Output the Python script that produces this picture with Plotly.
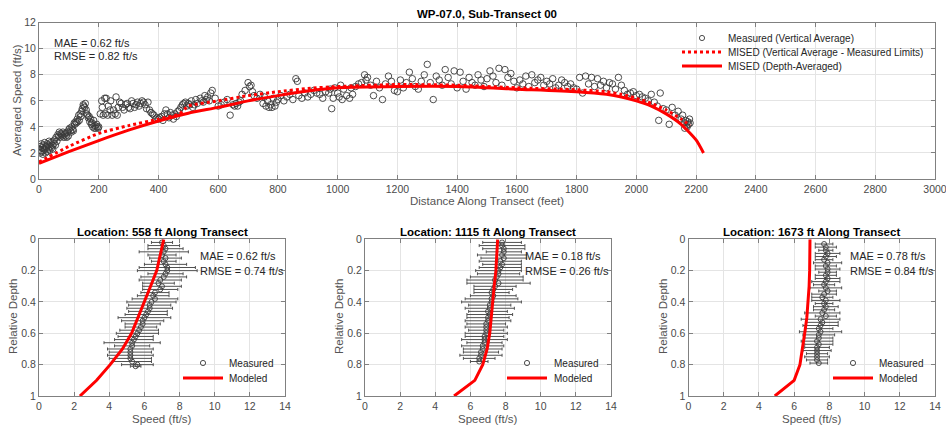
import plotly.graph_objects as go

W, H = 946, 429

# ---------------- DATA ----------------
# Top panel: measured vertical-average speed along transect
meas_x = [2,4,5,7,8,10,11,13,14,16,18,19,21,23,25,27,28,30,32,34,36,38,40,42,44,46,48,50,52,55,57,60,
          63,66,68,70,73,75,78,80,83,85,88,90,93,95,98,100,103,105,108,110,113,115,118,120,123,125,128,130,
          133,135,138,140,143,145,148,150,153,155,158,160,163,165,168,170,173,175,178,180,183,185,188,190,193,195,198,200,
          205,210,212,215,220,222,225,230,232,238,240,245,250,255,258,262,265,270,275,280,285,290,295,300,305,310,315,320,325,330,335,340,345,350,355,360,365,370,375,
          380,385,390,395,400,405,410,415,420,425,430,435,440,445,450,455,460,465,470,475,480,
          485,490,495,500,505,510,515,520,525,530,540,545,550,555,560,565,570,575,580,590,600,610,620,630,640,
          650,655,660,665,670,675,680,690,700,705,710,715,720,730,740,750,755,760,765,770,775,780,785,790,795,800,
          810,820,830,840,850,860,865,870,880,890,900,910,920,930,940,950,960,970,975,980,985,990,1000,
          1005,1010,1015,1020,1030,1040,1045,1050,1060,1070,1080,1090,1095,1100,1110,1120,1130,1140,1150,1160,1170,1180,1190,1200,1210,1220,1230,1240,1250,1260,1270,1280,1290,1300,
          1310,1320,1330,1340,1350,1360,1370,1380,1390,1400,1410,1420,1430,1440,1450,1460,1470,1480,1490,1500,
          1510,1520,1530,1540,1550,1560,1570,1580,1590,1600,1610,1620,1630,1640,1650,1660,1670,1680,1690,1700,1710,1720,1730,1740,1750,1760,1770,1780,1790,1800,
          1810,1820,1830,1840,1850,1860,1870,1880,1890,1900,1910,1920,1930,1940,1950,1960,1970,1980,1990,2000,
          2010,2020,2030,2040,2050,2060,2070,2075,2080,2090,2100,2110,2120,2130,2140,2150,2155,2160,2165,2170,2172,2175,2178,2180,2168,2162]
meas_y = [2.3,2.0,2.5,2.2,2.7,2.1,2.4,1.9,2.6,2.3,2.2,2.8,2.0,2.5,2.4,2.7,2.1,2.6,2.3,2.9,2.2,2.5,2.8,2.4,2.6,2.3,2.9,2.7,3.0,2.6,3.2,2.9,
          3.4,3.3,3.6,3.2,3.5,3.4,3.3,3.6,3.2,3.4,3.5,3.3,3.2,3.6,3.3,3.8,3.9,3.7,3.6,4.0,3.8,3.7,4.3,4.2,4.4,4.3,4.6,4.4,
          4.9,4.5,5.0,4.8,5.2,5.4,5.7,5.6,5.5,5.8,5.3,5.0,4.9,4.7,4.8,4.4,4.6,4.2,4.3,4.0,4.5,3.9,4.1,3.9,4.2,4.0,3.9,4.0,
          5.0,6.0,5.5,4.9,6.2,5.0,6.2,4.9,5.6,5.3,6.0,4.9,5.3,5.0,6.3,4.9,5.5,5.9,5.8,5.5,5.3,5.7,5.8,5.5,5.4,6.0,5.8,5.5,5.7,5.9,5.6,5.8,6.0,5.9,5.7,5.4,5.9,5.3,5.1,
          5.0,4.9,4.6,4.7,4.6,4.7,4.8,4.5,5.0,5.3,5.0,4.7,5.1,4.9,4.6,5.0,4.8,5.2,5.3,5.5,5.7,
          5.8,5.9,5.6,5.8,5.7,6.0,5.5,5.7,6.1,5.8,6.2,6.0,5.9,6.4,6.1,6.3,6.0,6.6,6.8,6.2,5.6,5.7,5.9,6.1,4.9,
          5.7,5.6,5.8,5.6,5.9,6.0,6.5,6.8,7.4,7.1,7.2,6.7,6.4,6.2,6.5,5.8,6.3,5.6,6.0,5.5,5.7,5.5,6.2,5.6,5.9,6.1,
          6.4,6.0,6.3,6.5,6.1,7.7,7.5,6.4,6.2,6.6,6.3,6.5,6.8,6.6,6.5,6.2,6.7,6.6,6.9,5.4,6.2,7.0,6.6,
          6.3,7.2,6.1,6.9,6.4,6.2,7.0,6.5,7.1,7.3,7.4,8.0,7.6,7.8,7.2,6.4,7.5,7.0,6.1,7.3,7.9,7.5,6.8,6.7,7.6,7.0,7.4,8.2,7.7,7.1,6.9,7.5,8.0,8.8,
          7.4,6.1,7.9,7.6,7.2,8.4,7.8,7.3,8.3,7.0,8.2,7.5,6.9,7.8,7.4,7.2,8.0,7.6,7.1,7.7,
          8.3,7.9,7.4,8.5,7.2,8.4,7.8,8.1,7.5,7.0,7.6,7.3,7.9,7.1,8.0,7.4,7.6,7.8,7.2,7.5,7.3,7.7,7.0,7.2,7.6,7.4,7.1,7.3,7.0,6.9,
          7.8,6.6,7.9,7.3,7.8,7.1,7.7,7.2,7.5,7.0,7.4,7.3,6.9,7.8,7.2,6.8,6.5,6.6,6.7,6.4,
          6.5,6.3,6.2,6.0,6.5,5.9,5.6,4.5,6.6,5.4,5.3,4.2,5.5,4.9,5.2,4.6,4.9,4.3,4.5,4.0,4.4,4.2,4.6,4.3,4.1,3.9]

# MISED vertical average within measured limits (dotted)
lim_x = [0, 100, 200, 300, 400, 470, 500, 600, 700, 800, 900, 1000, 1200, 1400, 1600, 1800, 1900, 1950, 2000, 2050, 2100, 2150, 2180]
lim_y = [1.3, 2.5, 3.5, 4.1, 4.6, 5.0, 5.6, 6.0, 6.4, 6.7, 6.95, 7.1, 7.25, 7.2, 7.0, 6.85, 6.7, 6.5, 6.2, 5.8, 5.3, 4.6, 4.1]

# MISED depth-averaged (solid)
dep_x = [0, 100, 200, 300, 400, 500, 600, 700, 800, 900, 1000, 1200, 1400, 1600, 1800, 1900, 1950, 2000, 2050, 2100, 2150, 2200, 2225]
dep_y = [1.2, 2.1, 2.95, 3.75, 4.45, 5.05, 5.5, 6.0, 6.4, 6.75, 7.0, 7.1, 7.1, 6.9, 6.7, 6.5, 6.3, 6.0, 5.6, 5.0, 4.2, 3.0, 2.0]

# Bottom panels: vertical profiles
depth1 = [0.02,0.04,0.06,0.08,0.10,0.12,0.14,0.16,0.18,0.20,0.22,0.24,0.26,0.28,0.30,0.32,0.34,0.36,0.38,0.40,
          0.42,0.44,0.46,0.48,0.50,0.52,0.54,0.56,0.58,0.60,0.62,0.64,0.66,0.68,0.70,0.72,0.74,0.76,0.78,0.80,0.81]
speed1 = [7.0,7.1,7.2,7.1,7.0,7.2,7.1,7.2,7.3,7.3,7.2,7.1,6.9,6.8,7.0,6.9,6.6,6.5,6.6,6.4,
          6.3,6.3,6.2,6.1,6.0,5.9,5.9,5.8,5.7,5.6,5.5,5.4,5.3,5.3,5.2,5.2,5.2,5.2,5.3,5.6,5.5]
err1 = [0.6,0.9,1.0,1.4,0.8,0.9,0.7,1.2,1.6,1.7,1.0,1.3,1.2,0.9,1.1,1.0,0.8,0.9,1.3,1.4,
        1.2,1.3,1.1,1.2,1.5,1.2,1.0,0.9,1.1,1.2,1.0,1.1,1.6,1.0,1.3,1.2,1.3,1.2,1.1,0.9,0.3]

depth2 = [0.02,0.04,0.06,0.08,0.10,0.12,0.14,0.16,0.18,0.20,0.22,0.24,0.26,0.28,0.30,0.32,0.34,0.36,0.38,0.40,
          0.42,0.44,0.46,0.48,0.50,0.52,0.54,0.56,0.58,0.60,0.62,0.64,0.66,0.68,0.70,0.72,0.74,0.76,0.78]
speed2 = [7.8,7.8,7.9,7.9,7.8,7.9,7.7,7.8,7.7,7.6,7.6,7.5,7.4,7.6,7.4,7.3,7.2,7.3,7.2,7.2,
          7.1,7.1,7.0,7.1,7.0,7.0,6.9,6.9,6.9,6.9,6.8,6.8,6.8,6.7,6.7,6.6,6.6,6.5,6.5]
err2 = [1.1,1.3,1.2,1.0,1.4,1.3,1.2,1.1,1.2,1.3,1.2,1.5,1.6,1.8,1.2,1.1,1.0,1.3,1.5,1.7,
        1.2,1.4,1.1,1.3,1.2,1.3,1.1,1.2,1.0,1.2,1.1,1.3,1.0,1.2,1.1,1.0,1.2,0.9,0.5]

depth3 = [0.03,0.05,0.07,0.09,0.11,0.13,0.15,0.17,0.19,0.21,0.23,0.25,0.27,0.29,0.31,0.33,0.35,0.37,0.39,0.41,
          0.43,0.45,0.47,0.49,0.51,0.53,0.55,0.57,0.59,0.61,0.63,0.65,0.67,0.69,0.71,0.73,0.75,0.77,0.79]
speed3 = [7.7,7.8,7.8,7.9,7.8,7.7,7.9,7.8,7.9,7.9,7.8,7.9,7.8,7.7,7.8,7.9,7.7,7.6,7.8,7.7,
          7.8,7.7,7.6,7.8,7.5,7.6,7.5,7.4,7.5,7.4,7.4,7.3,7.4,7.3,7.3,7.3,7.3,7.3,7.4]
err3 = [0.5,0.6,0.4,0.7,0.6,0.5,0.8,0.6,0.7,0.5,0.6,0.7,0.8,0.6,0.9,0.5,0.7,0.6,0.8,0.5,
        0.7,0.6,1.0,0.6,1.1,0.9,1.0,0.8,1.2,0.9,0.8,0.9,0.8,0.7,0.8,0.6,0.7,0.6,0.5]

model_depth = [0.0,0.1,0.2,0.3,0.4,0.5,0.6,0.7,0.8,0.9,1.0]
model1 = [7.1,6.9,6.7,6.35,6.0,5.65,5.27,4.75,4.05,3.28,2.33]
model2 = [7.55,7.5,7.45,7.35,7.27,7.2,7.1,6.95,6.7,6.25,5.07]
model3 = [6.9,6.9,6.88,6.85,6.8,6.72,6.6,6.47,6.33,6.0,4.9]

panel_titles = ["Location: 558 ft Along Transect", "Location: 1115 ft Along Transect", "Location: 1673 ft Along Transect"]
panel_mae = ["MAE = 0.62 ft/s", "MAE = 0.18 ft/s", "MAE = 0.78 ft/s"]
panel_rmse = ["RMSE = 0.74 ft/s", "RMSE = 0.26 ft/s", "RMSE = 0.84 ft/s"]
top_title = "WP-07.0, Sub-Transect 00"
legend_top = ["Measured (Vertical Average)", "MISED (Vertical Average - Measured Limits)", "MISED (Depth-Averaged)"]

# ---------------- STYLE ----------------
FONT = "Liberation Sans, Arial, Helvetica, sans-serif"
RED = "#ff0000"
TXT = "#262626"
TICK = "#4a4a4a"
AXC = "#808080"
GRID = "#e4e4e4"

def fx(px):
    return px / W

def fy(py):
    return 1 - py / H

fig = go.Figure()

# top panel traces
fig.add_trace(go.Scatter(x=meas_x, y=meas_y, mode="markers", xaxis="x", yaxis="y",
                         marker=dict(symbol="circle-open", size=6.5, color="#3a3a3a", line=dict(width=0.9)),
                         showlegend=False))
fig.add_trace(go.Scatter(x=lim_x, y=lim_y, mode="lines", xaxis="x", yaxis="y",
                         line=dict(color=RED, width=3, dash="dot", shape="spline", smoothing=0.6), showlegend=False))
fig.add_trace(go.Scatter(x=dep_x, y=dep_y, mode="lines", xaxis="x", yaxis="y",
                         line=dict(color=RED, width=3, shape="spline", smoothing=0.6), showlegend=False))

profiles = [(depth1, speed1, err1, model1), (depth2, speed2, err2, model2), (depth3, speed3, err3, model3)]
for i, (d, s, e, m) in enumerate(profiles):
    xa = "x%d" % (i + 2)
    ya = "y%d" % (i + 2)
    fig.add_trace(go.Scatter(x=s, y=d, mode="markers", xaxis=xa, yaxis=ya,
                             marker=dict(symbol="circle-open", size=5, color="#3a3a3a", line=dict(width=0.9)),
                             error_x=dict(type="data", array=e, color="#505050", thickness=1, width=1.5),
                             showlegend=False))
    fig.add_trace(go.Scatter(x=m, y=model_depth, mode="lines", xaxis=xa, yaxis=ya,
                             line=dict(color=RED, width=3), showlegend=False))

axis_common = dict(showgrid=True, gridcolor=GRID, gridwidth=1, showline=True, linecolor=AXC, linewidth=1,
                   mirror="ticks", ticks="inside", ticklen=4, tickcolor=AXC, zeroline=False,
                   ticklabeloverflow="allow",
                   tickfont=dict(family=FONT, size=10.5, color=TICK), automargin=False)

# domains (pixel based)
top_x = [fx(39), fx(935)]
top_y = [fy(179), fy(22.7)]
bot_y = [fy(396), fy(239.3)]
bot_x = [[fx(39), fx(285)], [fx(365), fx(611)], [fx(688.5), fx(935)]]

layout = dict(
    width=W, height=H, margin=dict(l=0, r=0, t=0, b=0),
    paper_bgcolor="white", plot_bgcolor="white",
    font=dict(family=FONT, color=TXT),
    showlegend=False,
    xaxis=dict(domain=top_x, range=[0, 3000], dtick=200, anchor="y", **axis_common),
    yaxis=dict(domain=top_y, range=[0, 12], dtick=2, anchor="x", **axis_common),
)
for i in range(3):
    layout["xaxis%d" % (i + 2)] = dict(domain=bot_x[i], range=[0, 14], dtick=2, anchor="y%d" % (i + 2), **axis_common)
    layout["yaxis%d" % (i + 2)] = dict(domain=bot_y, range=[1, 0], dtick=0.2, anchor="x%d" % (i + 2), **axis_common)
fig.update_layout(**layout)

ann = []
def text(px, py, t, size=11, bold=False, xanchor="center", color=TXT, angle=0):
    ann.append(dict(x=fx(px), y=fy(py), xref="paper", yref="paper", text=("<b>%s</b>" % t if bold else t),
                    showarrow=False, xanchor=xanchor, yanchor="middle", textangle=angle,
                    font=dict(family=FONT, size=size, color=color)))

# titles and axis labels
text(487, 14, top_title, size=11.5, bold=True, color="#000000")
text(487, 201, "Distance Along Transect (feet)", size=11.5, color="#555555")
text(17, 100, "Averaged Speed (ft/s)", size=11.5, color="#555555", angle=-90)
text(52, 43, "MAE = 0.62 ft/s", size=11, xanchor="left")
text(52, 56, "RMSE = 0.82 ft/s", size=11, xanchor="left")

centers = [162, 488, 811.5]
ylab_x = [13, 339, 663]
stat_x = [198, 523, 848]
for i in range(3):
    text(centers[i], 232, panel_titles[i], size=11.5, bold=True, color="#000000")
    text(centers[i], 419, "Speed (ft/s)", size=11.5, color="#555555")
    text(ylab_x[i], 317, "Relative Depth", size=11.5, color="#555555", angle=-90)
    text(stat_x[i], 256, panel_mae[i], size=11, xanchor="left")
    text(stat_x[i], 271, panel_rmse[i], size=11, xanchor="left")

# legends (drawn manually)
shapes = []
def leg_line(x0, x1, py, dash="solid"):
    shapes.append(dict(type="line", xref="paper", yref="paper", x0=fx(x0), x1=fx(x1), y0=fy(py), y1=fy(py),
                       line=dict(color=RED, width=3, dash=dash)))
def leg_circle(cx, cy, r=2.6):
    shapes.append(dict(type="circle", xref="paper", yref="paper", x0=fx(cx - r), x1=fx(cx + r),
                       y0=fy(cy + r), y1=fy(cy - r), line=dict(color="#3a3a3a", width=0.9)))

# top legend
leg_circle(702, 38)
text(726, 38, legend_top[0], size=10, xanchor="left")
leg_line(682, 722, 52, dash="dot")
text(726, 52, legend_top[1], size=10, xanchor="left")
leg_line(682, 722, 66)
text(726, 66, legend_top[2], size=10, xanchor="left")

# bottom legends
leg_defs = [(203, 227, 183, 223), (527, 552, 507, 547), (853, 877, 833, 873)]
for cx, tx, l0, l1 in leg_defs:
    leg_circle(cx, 363)
    text(tx, 363, "Measured", size=10, xanchor="left")
    leg_line(l0, l1, 378)
    text(tx, 378, "Modeled", size=10, xanchor="left")

fig.update_layout(annotations=ann, shapes=shapes)
fig.write_html("out.html", config={"displayModeBar": False},
               post_script="document.body.style.margin='0';document.body.style.overflow='hidden';")
